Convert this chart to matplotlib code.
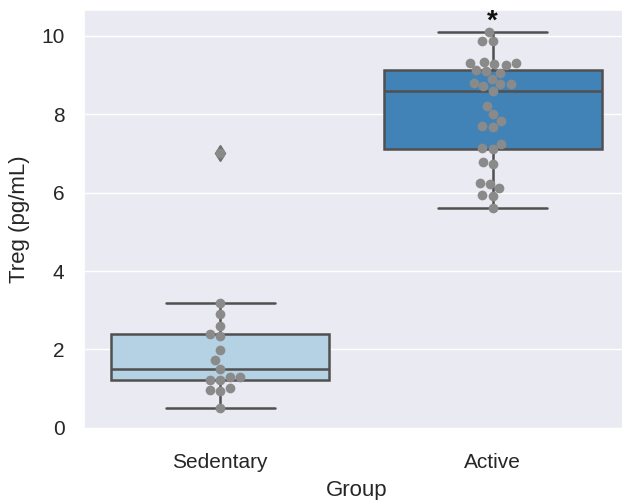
import matplotlib
matplotlib.use("Agg")
import matplotlib.pyplot as plt
import seaborn as sns
import pandas as pd

groups = ["Sedentary", "Active"]
sedentary = [3.18, 2.91, 2.60, 2.39, 2.33, 1.99, 1.72, 1.51, 1.29, 1.22, 1.21,
             1.29, 0.93, 0.97, 1.01, 0.50, 7.00]
active = [10.10, 9.87, 9.88, 9.30, 9.32, 9.34, 9.25, 9.27, 9.05, 9.12, 9.10,
          8.89, 8.78, 8.76, 8.71, 8.80, 8.60, 8.21, 8.00, 7.82, 7.68, 7.70,
          7.24, 7.14, 7.11, 6.77, 6.73, 6.24, 6.22, 6.11, 5.94, 5.92, 5.60]
box_colors = ["#b4d2e4", "#4283b7"]
y_ticks = [0, 2, 4, 6, 8, 10]

df = pd.DataFrame({
    "Group": [groups[0]] * len(sedentary) + [groups[1]] * len(active),
    "Treg": sedentary + active,
})

sns.set_theme(style="darkgrid")
plt.rcParams["font.family"] = ["Liberation Sans", "DejaVu Sans"]
plt.rcParams["text.color"] = ".15"

fig = plt.figure(figsize=(6.22, 5.0), dpi=100)
ax = fig.add_axes([0.135, 0.142, 0.876, 0.838])

line_grey = "#505050"
sns.boxplot(data=df, x="Group", y="Treg", hue="Group", order=groups,
            hue_order=groups, palette=box_colors, saturation=1, width=0.8,
            linecolor=line_grey, linewidth=1.8, fliersize=8, legend=False,
            flierprops=dict(marker="d", markerfacecolor="#707070",
                            markeredgecolor="#707070"),
            ax=ax)
sns.swarmplot(data=df, x="Group", y="Treg", order=groups, color="#8a8a8a",
              size=7, ax=ax)

ax.text(1, 10.36, "*", ha="center", va="center", fontsize=20,
        fontweight="bold", color="#111111")

ax.set_xlim(-0.5, 1.5)
ax.set_ylim(-0.03, 10.66)
ax.set_yticks(y_ticks)
ax.tick_params(axis="y", labelsize=15, colors=".15", pad=8)
ax.tick_params(axis="x", labelsize=15, colors=".15", pad=11)
ax.set_xlabel("Group", fontsize=16, labelpad=6)
ax.set_ylabel("Treg (pg/mL)", fontsize=16, labelpad=8)

fig.savefig("out.png", dpi=100)
